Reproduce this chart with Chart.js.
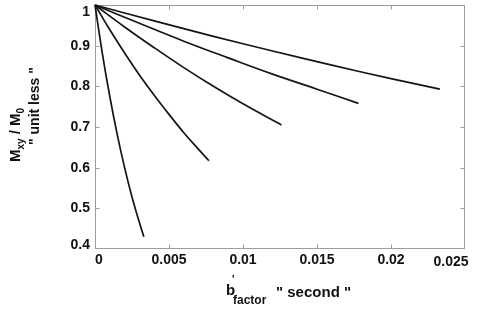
<!DOCTYPE html>
<html>
<head>
<meta charset="utf-8">
<script src="https://cdn.jsdelivr.net/npm/chart.js@4.4.0/dist/chart.umd.min.js"></script>
<style>
  html, body { margin: 0; padding: 0; background: #fff; }
</style>
</head>
<body>
<canvas id="decayChart" width="480" height="310"></canvas>
<script>
// Tick values of both axes
const xTicks = [0, 0.005, 0.01, 0.015, 0.02, 0.025];
const yTicks = [0.4, 0.5, 0.6, 0.7, 0.8, 0.9, 1];

// Decay curves: b-factor (s) and Mxy/M0
const b1 = [0, 0.0005, 0.001, 0.0015, 0.002, 0.0025, 0.003, 0.0033];
const m1 = [1, 0.880, 0.775, 0.682, 0.600, 0.528, 0.465, 0.430];
const b2 = [0, 0.001, 0.002, 0.003, 0.004, 0.005, 0.006, 0.007, 0.0077];
const m2 = [1, 0.939, 0.882, 0.828, 0.778, 0.731, 0.686, 0.645, 0.617];
const b3 = [0, 0.002, 0.004, 0.006, 0.008, 0.010, 0.0126];
const m3 = [1, 0.946, 0.895, 0.846, 0.800, 0.757, 0.705];
const b4 = [0, 0.003, 0.006, 0.009, 0.012, 0.015, 0.0178];
const m4 = [1, 0.955, 0.911, 0.870, 0.830, 0.793, 0.758];
const b5 = [0, 0.004, 0.008, 0.012, 0.016, 0.020, 0.0233];
const m5 = [1, 0.961, 0.923, 0.887, 0.852, 0.819, 0.793];

const curves = [[b1, m1], [b2, m2], [b3, m3], [b4, m4], [b5, m5]];

const FONT = '"Liberation Sans", Arial, sans-serif';

// draw a row of text pieces: [text, size, dy]
function drawRun(ctx, pieces, x, y) {
    let cx = x;
    pieces.forEach(p => {
        ctx.font = 'bold ' + p[1] + 'px ' + FONT;
        ctx.fillText(p[0], cx, y + (p[2] || 0));
        cx += ctx.measureText(p[0]).width;
    });
}

const frameAndLabels = {
    id: 'frameAndLabels',
    beforeDatasetsDraw(chart) {
        const { ctx, chartArea: a, scales: { x, y } } = chart;
        const L = Math.round(a.left) + 0.5, R = Math.round(a.right) - 0.5;
        const T = Math.round(a.top) + 0.5, B = Math.round(a.bottom) - 0.5;
        ctx.save();
        ctx.strokeStyle = '#9c9c9c';
        ctx.lineWidth = 1;
        ctx.strokeRect(L, T, R - L, B - T);
        ctx.beginPath();
        xTicks.slice(1, -1).forEach(v => {
            const px = Math.round(x.getPixelForValue(v)) + 0.5;
            ctx.moveTo(px, B); ctx.lineTo(px, B - 4);
            ctx.moveTo(px, T); ctx.lineTo(px, T + 4);
        });
        yTicks.slice(1, -1).forEach(v => {
            const py = Math.round(y.getPixelForValue(v)) + 0.5;
            ctx.moveTo(L, py); ctx.lineTo(L + 4, py);
            ctx.moveTo(R, py); ctx.lineTo(R - 4, py);
        });
        ctx.stroke();
        ctx.restore();
    },
    afterDraw(chart) {
        const { ctx, chartArea: a, scales: { x, y } } = chart;
        ctx.save();
        ctx.fillStyle = '#111';
        ctx.font = 'bold 14px ' + FONT;
        ctx.textBaseline = 'middle';
        // x tick labels
        ctx.textAlign = 'center';
        xTicks.forEach((v, i) => {
            let dx = 0, dy = 0;
            if (i === 0) dx = 4;
            if (i === xTicks.length - 1) { dx = -14; dy = 2; }
            ctx.fillText(String(v), x.getPixelForValue(v) + dx, a.bottom + 11 + dy);
        });
        // y tick labels
        ctx.textAlign = 'right';
        yTicks.forEach((v, i) => {
            let dy = 0;
            if (i === 0) dy = -4;
            if (i === yTicks.length - 1) dy = 7;
            ctx.fillText(String(v), a.left - 5, y.getPixelForValue(v) + dy);
        });

        // x axis title
        ctx.textAlign = 'left';
        ctx.textBaseline = 'alphabetic';
        drawRun(ctx, [['b', 15]], 226, 295);
        drawRun(ctx, [["'", 11]], 232, 283);
        drawRun(ctx, [['factor', 12]], 233, 304);
        drawRun(ctx, [['" second "', 15]], 276, 297);

        // y axis title, two rotated lines
        ctx.save();
        ctx.translate(20, 162);
        ctx.rotate(-Math.PI / 2);
        drawRun(ctx, [['M', 15], ['xy', 10, 4], [' / M', 15], ['0', 10, 4]], 0, 0);
        ctx.restore();
        ctx.save();
        ctx.translate(39, 145);
        ctx.rotate(-Math.PI / 2);
        drawRun(ctx, [['" unit less "', 14]], 0, 0);
        ctx.restore();
        ctx.restore();
    }
};

const ctx = document.getElementById('decayChart').getContext('2d');
new Chart(ctx, {
    type: 'line',
    data: {
        datasets: curves.map(c => ({
            data: c[0].map((b, i) => ({ x: b, y: c[1][i] })),
            borderColor: '#151515',
            borderWidth: 1.7,
            pointRadius: 0,
            fill: false,
            tension: 0.4,
            clip: 3,
        })),
    },
    options: {
        responsive: false,
        animation: false,
        devicePixelRatio: 1,
        layout: { padding: { left: 0, top: 5, right: 15, bottom: 0 } },
        plugins: { legend: { display: false }, tooltip: { enabled: false } },
        scales: {
            x: {
                type: 'linear',
                min: 0,
                max: 0.025,
                grid: { display: false },
                border: { display: false },
                ticks: { display: false },
                afterFit: s => { s.height = 61; },
            },
            y: {
                min: 0.4,
                max: 1,
                grid: { display: false },
                border: { display: false },
                ticks: { display: false },
                afterFit: s => { s.width = 95; },
            },
        },
    },
    plugins: [frameAndLabels],
});
</script>
</body>
</html>
